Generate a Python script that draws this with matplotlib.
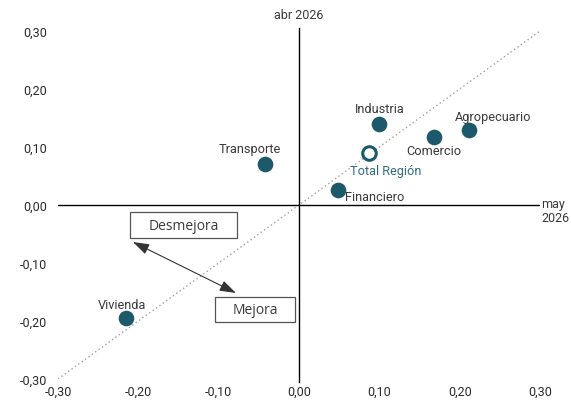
import matplotlib.pyplot as plt
from matplotlib.patches import FancyArrowPatch, Rectangle
from matplotlib.ticker import FuncFormatter

plt.rcParams['font.family'] = ['Roboto', 'DejaVu Sans']

# sectores: (x = may 2026, y = abr 2026)
sectores = ['Transporte', 'Industria', 'Comercio', 'Agropecuario', 'Financiero', 'Vivienda']
x_may = [-0.042, 0.100, 0.168, 0.212, 0.049, -0.215]
y_abr = [0.071, 0.140, 0.117, 0.130, 0.026, -0.195]
total_x = 0.087
total_y = 0.090

ticks = [-0.3, -0.2, -0.1, 0.0, 0.1, 0.2, 0.3]
color = '#1c5a6b'
txt = '#3a3a3a'

fig = plt.figure(figsize=(5.71, 4.06), dpi=100)
ax = fig.add_axes([58 / 571, 26 / 406, 482 / 571, 348 / 406])
ax.set_xlim(-0.3, 0.3)
ax.set_ylim(-0.3, 0.3)

for s in ['top', 'right', 'left', 'bottom']:
    ax.spines[s].set_visible(False)
ax.axhline(0, color='black', lw=1, zorder=1)
ax.axvline(0, color='black', lw=1, zorder=1, ymin=-0.01, ymax=1.01, clip_on=False)

# diagonal 45 grados
ax.plot([-0.3, 0.3], [-0.3, 0.3], ls=(0, (1, 2)), color='#a0a0a0', lw=1, zorder=0)

ax.scatter(x_may, y_abr, s=105, color=color, zorder=3)
ax.scatter([total_x], [total_y], s=95, facecolor='white', edgecolor=color, lw=2.2, zorder=3)

# posiciones de etiquetas (offset en puntos)
offs = {
    'Transporte': (-11, 11, 'center'),
    'Industria': (0, 11, 'center'),
    'Comercio': (0, -9.5, 'center'),
    'Agropecuario': (17, 9.5, 'center'),
    'Financiero': (5, -5, 'left'),
    'Vivienda': (-3, 10, 'center'),
}
for name, x, y in zip(sectores, x_may, y_abr):
    dx, dy, ha = offs[name]
    ax.annotate(name, (x, y), xytext=(dx, dy), textcoords='offset points',
                ha=ha, va='center', fontsize=9.2, color=txt)
ax.annotate('Total Región', (total_x, total_y), xytext=(12, -13), textcoords='offset points',
            ha='center', va='center', fontsize=9.2, color='#2f6e80')

ax.set_xticks(ticks)
ax.set_yticks(ticks)
fmt = FuncFormatter(lambda v, p: ('%.2f' % v).replace('.', ',').replace('-0,00', '0,00'))
ax.xaxis.set_major_formatter(fmt)
ax.yaxis.set_major_formatter(fmt)
ax.tick_params(length=0, labelsize=9, colors='#2a2a2a')
ax.tick_params(axis='x', pad=4)
ax.tick_params(axis='y', pad=8)

ax.text(0, 1.03, 'abr 2026', transform=ax.get_xaxis_transform(), ha='center', va='bottom',
        fontsize=9, color=txt)
ax.text(1.003, 0.485, 'may\n2026', transform=ax.transAxes, ha='left', va='center',
        fontsize=9, color=txt, linespacing=1.1)

# cajas Desmejora / Mejora
ax.add_patch(Rectangle((-0.2105, -0.057), 0.1333, 0.045, fc='white', ec='#555555', lw=0.9, zorder=4))
ax.text(-0.1438, -0.0345, 'Desmejora', ha='center', va='center', fontsize=10,
        family=['Open Sans', 'DejaVu Sans'], color=txt, zorder=5)
ax.add_patch(Rectangle((-0.1046, -0.2017), 0.0996, 0.0431, fc='white', ec='#555555', lw=0.9, zorder=4))
ax.text(-0.0548, -0.180, 'Mejora', ha='center', va='center', fontsize=10,
        family=['Open Sans', 'DejaVu Sans'], color=txt, zorder=5)

arrow = FancyArrowPatch((-0.2067, -0.0638), (-0.0785, -0.1517),
                        arrowstyle='<|-|>,head_length=0.9,head_width=0.3',
                        mutation_scale=11, color='#333333', lw=0.8, zorder=4,
                        shrinkA=0, shrinkB=0)
ax.add_patch(arrow)

fig.savefig('out.png', dpi=100)
